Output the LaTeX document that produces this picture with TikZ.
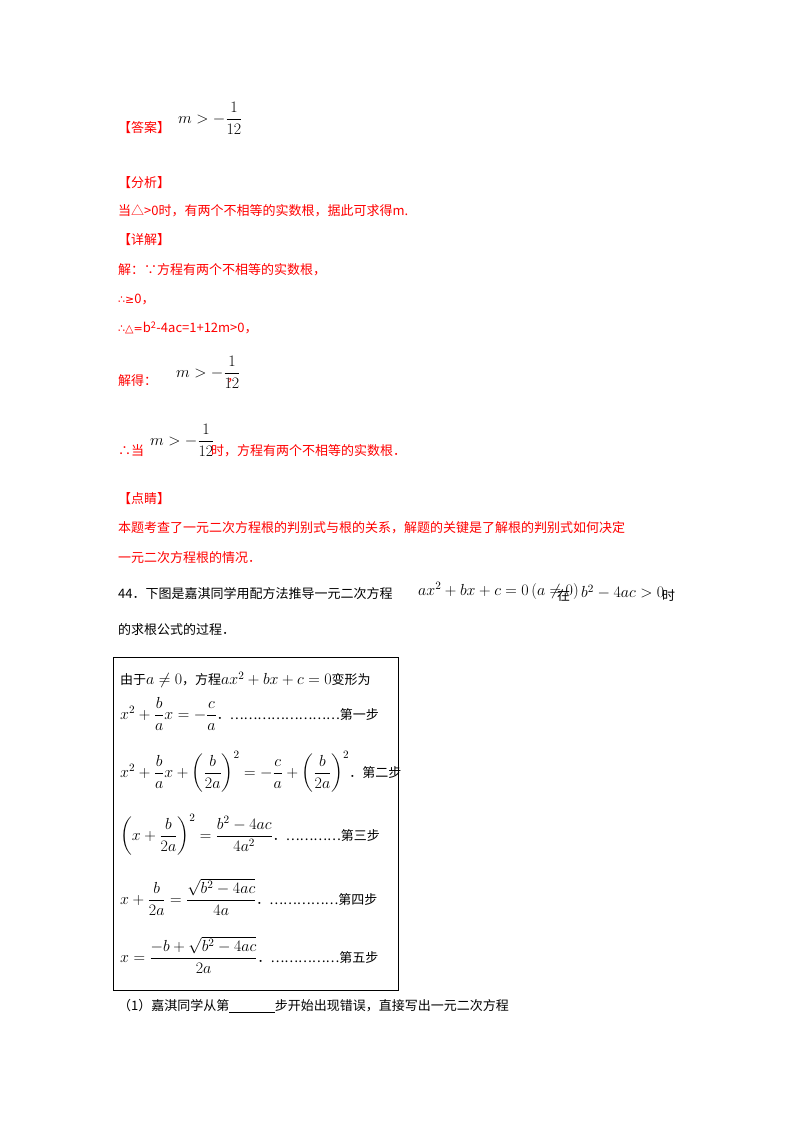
\documentclass[tikz,border=0pt]{standalone}
\usepackage{amsmath}
\usepackage{fontspec}
\usepackage{anyfontsize}
\newfontfamily\cjk{Noto Sans CJK SC}
\newfontfamily\djv{DejaVu Sans}
\newcommand\mm[1]{{\fontsize{16}{19}\selectfont$#1$}}
\begin{document}
\begin{tikzpicture}[x=1pt,y=-1pt,
  rt/.style={anchor=west,inner sep=0pt,text=red,font=\cjk\fontsize{13}{15}\selectfont},
  bt/.style={anchor=west,inner sep=0pt,text=black,font=\cjk\fontsize{13}{15}\selectfont},
  mt/.style={anchor=west,inner sep=0pt,text=black,font=\fontsize{16}{19}\selectfont}]
\useasboundingbox (0,0) rectangle (800,1132);
\fill[white] (0,0) rectangle (800,1132);
\node[rt] (ans) at (118,128) {【答案】};
\node[mt] (ansm) at (178,118) {\mm{m>-\dfrac{1}{12}}};
\node[rt] (fx) at (118,183) {【分析】};
\node[rt] (l1) at (118,211) {当△>0时，有两个不相等的实数根，据此可求得\textit{m}.};
\node[rt] (xj) at (118,240) {【详解】};
\node[rt] (l2) at (118,270) {解：∵方程有两个不相等的实数根，};
\node[rt] (l3) at (118,299) {{\djv\fontsize{11}{12}\selectfont ∴≥}0，};
\node[rt] (l4) at (118,328) {{\djv\fontsize{11}{12}\selectfont ∴△=}\textit{b}\textsuperscript{2}-4\textit{ac}=1+12\textit{m}>0，};
\node[rt] (l5) at (118,381) {解得：};
\node[mt] (l5m) at (176,372) {\mm{m>-\dfrac{1}{12}}};
\node[rt] (l5c) at (227,381) {，};
\node[rt] (l6) at (118,451) {∴当};
\node[mt] (l6m) at (150,440) {\mm{m>-\dfrac{1}{12}}};
\node[rt] (l6b) at (211,451) {时，方程有两个不相等的实数根．};
\node[rt] (dj) at (118,499) {【点睛】};
\node[rt] (l7) at (118,528) {本题考查了一元二次方程根的判别式与根的关系，解题的关键是了解根的判别式如何决定};
\node[rt] (l8) at (118,558) {一元二次方程根的情况．};
\node[bt] (q) at (118,594) {44．下图是嘉淇同学用配方法推导一元二次方程};
\node[mt] (qm) at (418,591) {\mm{ax^2+bx+c=0\left(a\neq 0\right)}};
\node[bt] (qz) at (557,596) {在};
\node[mt] (qm2) at (581,592) {\mm{b^2-4ac>0}};
\node[bt] (qs) at (662,596) {时};
\node[bt] (q2) at (118,630) {的求根公式的过程．};
\draw[line width=1pt] (113,657) rectangle (398,990);
\node[bt] (b0) at (120,680) {由于\mm{a\neq0}，方程\mm{ax^2+bx+c=0}变形为};
\node[bt] (b1) at (120,714) {\mm{x^2+\dfrac{b}{a}x=-\dfrac{c}{a}}．……………………第一步};
\node[bt] (b2) at (120,772) {\mm{x^2+\dfrac{b}{a}x+\left(\dfrac{b}{2a}\right)^2=-\dfrac{c}{a}+\left(\dfrac{b}{2a}\right)^2}．第二步};
\node[bt] (b3) at (120,835) {\mm{\left(x+\dfrac{b}{2a}\right)^2=\dfrac{b^2-4ac}{4a^2}}．…………第三步};
\node[bt] (b4) at (120,897) {\mm{x+\dfrac{b}{2a}=\dfrac{\sqrt{b^2-4ac}}{4a}}．……………第四步};
\node[bt] (b5) at (120,955) {\mm{x=\dfrac{-b+\sqrt{b^2-4ac}}{2a}}．……………第五步};
\node[bt] (q3) at (118,1006) {（1）嘉淇同学从第\underline{\hspace{3.5em}}步开始出现错误，直接写出一元二次方程};
\end{tikzpicture}
\end{document}
